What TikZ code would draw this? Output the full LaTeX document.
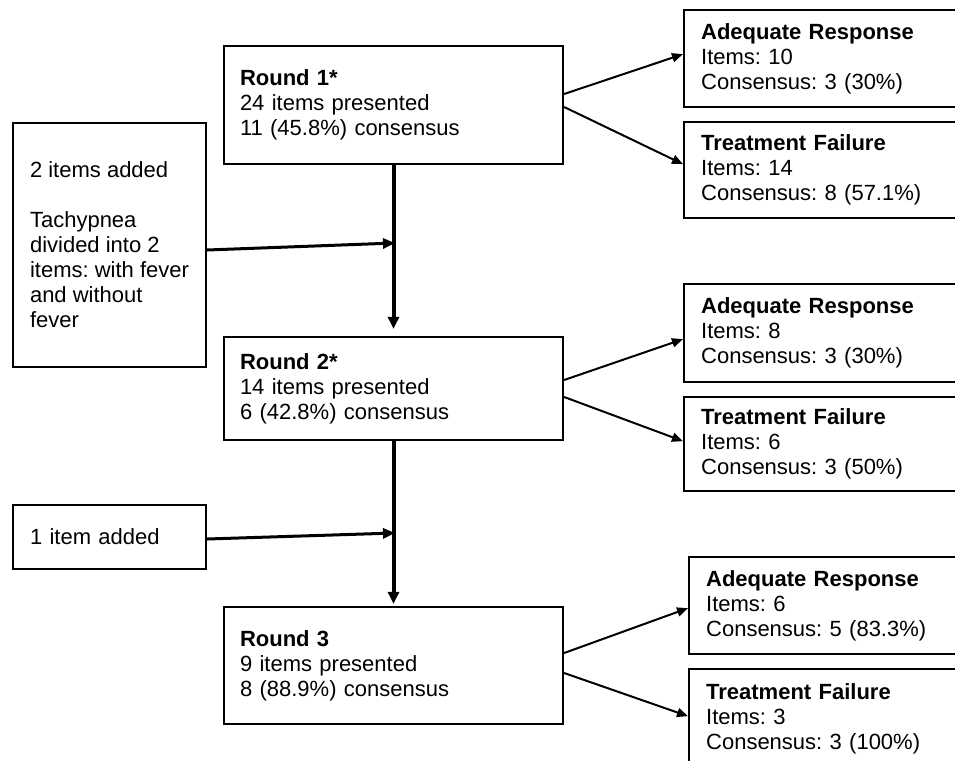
\documentclass[tikz,border=0pt]{standalone}
\usepackage{fontspec}
\setmainfont{Liberation Sans}
\usetikzlibrary{arrows.meta,positioning}
\tikzset{
  >=Triangle,
  every node/.append style={font=\fontsize{22}{25}\selectfont\frenchspacing},
}
\tikzset{
  roundbox/.style={draw, line width=2.3pt, align=left, text width=307pt, inner xsep=16pt, inner ysep=0pt},
  addbox/.style={draw, line width=2.3pt, align=left, inner xsep=17pt, inner ysep=0pt, minimum width=193pt},
  outbox/.style={draw, line width=2.3pt, align=left, anchor=north west, text width=266pt, inner xsep=17pt, inner ysep=0pt}
}

\begin{document}
\begin{tikzpicture}[
    x=1pt, y=-1pt,
    flow/.style={-{Triangle[length=12pt,width=11pt]}, line width=4pt},
    feed/.style={-{Triangle[length=12pt,width=10pt]}, line width=3pt},
    branch/.style={-{Triangle[length=11pt,width=9pt]}, line width=2pt}
]
\useasboundingbox (0,0) rectangle (955,760);
\clip (0,0) rectangle (955,760);

% rounds
\node[roundbox, minimum height=118pt] (r1) at (393.5,105) {\textbf{Round 1*}\\24 items presented\\11 (45.8\%) consensus};
\node[roundbox, minimum height=103pt] (r2) at (393.5,388.5) {\textbf{Round 2*}\\14 items presented\\6 (42.8\%) consensus};
\node[roundbox, minimum height=117pt] (r3) at (393.5,665.5) {\textbf{Round 3}\\9 items presented\\8 (88.9\%) consensus};

% added items
\node[addbox, minimum height=244pt] (a1) at (109.5,245) {2 items added\\[25pt]Tachypnea\\divided into 2\\items: with fever\\and without\\fever};
\node[addbox, text width=159pt, minimum height=64pt] (a2) at (109.5,537) {1 item added};

% outcomes
\node[outbox, minimum height=97pt] (ar1) at (683,9) {\textbf{Adequate Response}\\Items: 10\\Consensus: 3 (30\%)};
\node[outbox, minimum height=96pt] (tf1) at (683,121) {\textbf{Treatment Failure}\\Items: 14\\Consensus: 8 (57.1\%)};
\node[outbox, minimum height=98pt] (ar2) at (683,283) {\textbf{Adequate Response}\\Items: 8\\Consensus: 3 (30\%)};
\node[outbox, minimum height=94pt] (tf2) at (683,396) {\textbf{Treatment Failure}\\Items: 6\\Consensus: 3 (50\%)};
\node[outbox, minimum height=97pt] (ar3) at (688,556) {\textbf{Adequate Response}\\Items: 6\\Consensus: 5 (83.3\%)};
\node[outbox, minimum height=100pt] (tf3) at (688,668) {\textbf{Treatment Failure}\\Items: 3\\Consensus: 3 (100\%)};

\coordinate (j1) at (395,243);
\coordinate (j2) at (395,533);

\draw[flow, shorten >=7pt] (r1) -- (r2);
\draw[flow, shorten >=2pt] (r2) -- (r3);
\draw[feed] ([yshift=-5pt]a1.east) -- (j1);
\draw[feed] ([yshift=-2pt]a2.east) -- (j2);

\draw[branch] ([yshift=11pt]r1.east) -- ([yshift=4.5pt]ar1.west);
\draw[branch] ([yshift=-2pt]r1.east) -- ([yshift=6pt]tf1.west);
\draw[branch] ([yshift=8.5pt]r2.east) -- ([yshift=-6pt]ar2.west);
\draw[branch] ([yshift=-8.5pt]r2.east) -- ([yshift=3pt]tf2.west);
\draw[branch] ([yshift=12.5pt]r3.east) -- ([yshift=-2.5pt]ar3.west);
\draw[branch] ([yshift=-7.5pt]r3.east) -- ([yshift=3pt]tf3.west);
\end{tikzpicture}
\end{document}
